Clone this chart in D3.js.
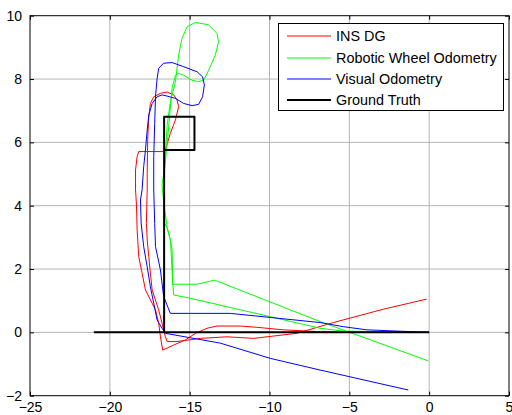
<!DOCTYPE html>
<html><head><meta charset="utf-8">
<script src="https://cdn.jsdelivr.net/npm/d3@7"></script>
<style>body{margin:0;background:#fff;} text{font-family:"Liberation Sans",Arial,sans-serif;}</style>
</head><body>
<svg id="c" width="512" height="415"></svg>
<script>
const xTicks = [-25,-20,-15,-10,-5,0,5];
const yTicks = [-2,0,2,4,6,8,10];
const seriesNames = ["INS DG","Robotic Wheel Odometry","Visual Odometry","Ground Truth"];
const seriesColors = ["#ff0000","#00ff00","#0000ff","#000000"];

const insDG = [[0,0],[-6.83,0.02],[-9.13,0.08],[-10.79,0.16],[-11.83,0.2],[-13.29,0.2],[-13.91,0.13],[-14.64,-0.03],[-15.27,-0.24],[-16.0,-0.4],[-16.69,-0.56],[-16.83,-0.14],[-16.94,0.29],[-17.14,0.71],[-17.77,1.34],[-17.98,1.87],[-18.19,2.39],[-18.29,3.23],[-18.33,4.02],[-18.39,4.5],[-18.39,5.13],[-18.29,5.55],[-18.19,5.71],[-16.63,5.71],[-16.52,5.76],[-16.21,6.29],[-15.89,6.71],[-15.69,7.13],[-15.79,7.34],[-16.0,7.5],[-16.41,7.59],[-16.83,7.55],[-17.25,7.44],[-17.46,7.23],[-17.56,6.81],[-17.63,6.08],[-17.66,5.02],[-17.66,4.5],[-17.71,3.44],[-17.66,2.92],[-17.56,2.39],[-17.46,1.87],[-17.35,1.34],[-16.94,0.71],[-16.73,0.29],[-16.52,-0.14],[-16.41,-0.29],[-15.79,-0.29],[-14.33,-0.19],[-12.66,-0.14],[-11.0,-0.19],[-8.29,-0.03],[-6.0,0.31],[-4.96,0.45],[-2.88,0.73],[-0.16,1.05]];

const wheelOdo = [[0,0],[-5.4,0.04],[-6.83,0.13],[-15.08,1.09],[-16.0,1.18],[-16.06,1.55],[-16.1,2.6],[-16.21,2.92],[-16.41,3.29],[-16.56,3.44],[-16.63,4.5],[-16.56,5.23],[-16.41,6.55],[-16.2,7.3],[-15.89,7.92],[-15.69,8.76],[-15.48,9.29],[-15.16,9.65],[-14.64,9.79],[-13.81,9.71],[-13.29,9.44],[-13.19,9.18],[-13.39,8.76],[-13.81,8.28],[-14.13,7.96],[-14.44,7.92],[-14.85,7.96],[-15.38,8.12],[-15.69,8.18],[-15.89,8.12],[-16.1,7.71],[-16.25,6.87],[-16.4,6.0],[-16.56,5.23],[-16.73,4.65],[-16.6,4.0],[-16.4,3.3],[-16.2,2.9],[-16.06,1.52],[-14.54,1.52],[-13.44,1.65],[-6.83,0.34],[-0.06,-0.9]];

const visualOdo = [[0,0],[-3.91,0.08],[-5.38,0.18],[-6.83,0.31],[-12.46,0.6],[-16.21,0.6],[-16.63,1.13],[-16.83,1.97],[-17.14,2.71],[-17.19,3.44],[-17.25,4.5],[-17.25,5.55],[-17.19,6.6],[-17.14,7.44],[-17.04,8.02],[-16.94,8.34],[-16.63,8.5],[-16.1,8.52],[-15.38,8.39],[-14.54,8.23],[-14.19,8.07],[-14.08,7.81],[-14.19,7.44],[-14.44,7.2],[-14.85,7.16],[-15.38,7.23],[-15.89,7.39],[-16.41,7.46],[-16.73,7.5],[-17.04,7.44],[-17.35,7.23],[-17.56,6.86],[-17.66,6.39],[-17.77,5.76],[-17.88,5.23],[-17.98,4.5],[-18.08,4.18],[-18.04,3.45],[-17.88,2.71],[-17.66,2.07],[-17.46,1.44],[-17.25,0.92],[-17.04,0.39],[-16.73,0.13],[-16.52,-0.03],[-13.08,-0.34],[-9.96,-0.82],[-6.83,-1.19],[-1.31,-1.82]];

const groundTruth = [[0,0],[-16.6,0],[-16.6,5.76],[-16.6,6.81],[-14.7,6.81],[-14.7,5.76],[-16.6,5.76],[-16.6,0],[-21,0]];

const svg = d3.select("#c");
const L=30, R=509, T=15.7, B=395.7;
const x = d3.scaleLinear().domain([-25,5]).range([L,R]);
const y = d3.scaleLinear().domain([-2,10]).range([B,T]);

// grid
svg.append("g").selectAll("line").data(xTicks.slice(1,-1)).join("line")
  .attr("x1",d=>x(d)).attr("x2",d=>x(d)).attr("y1",T).attr("y2",B)
  .attr("stroke","#b4b4b4").attr("stroke-width",1);
svg.append("g").selectAll("line").data(yTicks.slice(1,-1)).join("line")
  .attr("y1",d=>y(d)).attr("y2",d=>y(d)).attr("x1",L).attr("x2",R)
  .attr("stroke","#b4b4b4").attr("stroke-width",1);

const line = d3.line().x(d=>x(d[0])).y(d=>y(d[1]));
const data = [insDG, wheelOdo, visualOdo, groundTruth];
data.forEach((s,i)=>{
  svg.append("path").datum(s).attr("d",line).attr("fill","none")
    .attr("stroke",seriesColors[i]).attr("stroke-width", i===3?2:1)
    .attr("stroke-linejoin","round");
});

// axes (ticks inside)
const fmt = d3.format("d");
svg.append("g").attr("transform",`translate(0,${B})`)
  .call(d3.axisBottom(x).tickValues(xTicks).tickSizeInner(-4).tickSizeOuter(0).tickPadding(6).tickFormat(fmt))
  .call(g=>g.select(".domain").remove())
  .call(g=>g.selectAll("text").attr("font-size",14).attr("fill","#000").attr("font-family","Liberation Sans, Arial"));
svg.append("g").attr("transform",`translate(0,${T})`)
  .call(d3.axisTop(x).tickValues(xTicks).tickSizeInner(-4).tickSizeOuter(0).tickFormat(""))
  .call(g=>g.select(".domain").remove());
svg.append("g").attr("transform",`translate(${L},0)`)
  .call(d3.axisLeft(y).tickValues(yTicks).tickSizeInner(-4).tickSizeOuter(0).tickPadding(8).tickFormat(fmt))
  .call(g=>g.select(".domain").remove())
  .call(g=>g.selectAll("text").attr("font-size",14).attr("fill","#000").attr("font-family","Liberation Sans, Arial"));
svg.append("g").attr("transform",`translate(${R},0)`)
  .call(d3.axisRight(y).tickValues(yTicks).tickSizeInner(-4).tickSizeOuter(0).tickFormat(""))
  .call(g=>g.select(".domain").remove());
svg.append("rect").attr("x",L).attr("y",T).attr("width",R-L).attr("height",B-T)
  .attr("fill","none").attr("stroke","#000").attr("stroke-width",1);

// legend
const lg = svg.append("g");
lg.append("rect").attr("x",278.5).attr("y",23.5).attr("width",225).attr("height",87)
  .attr("fill","#fff").attr("stroke","#000").attr("stroke-width",1);
const rowY = [36,58,79,100];
seriesNames.forEach((n,i)=>{
  lg.append("line").attr("x1",287).attr("x2",331).attr("y1",rowY[i]).attr("y2",rowY[i])
    .attr("stroke",seriesColors[i]).attr("stroke-width",i===3?2:1);
  lg.append("text").attr("x",336).attr("y",rowY[i]).attr("dy","0.35em")
    .attr("font-size",14.4).text(n);
});
</script>
</body></html>
